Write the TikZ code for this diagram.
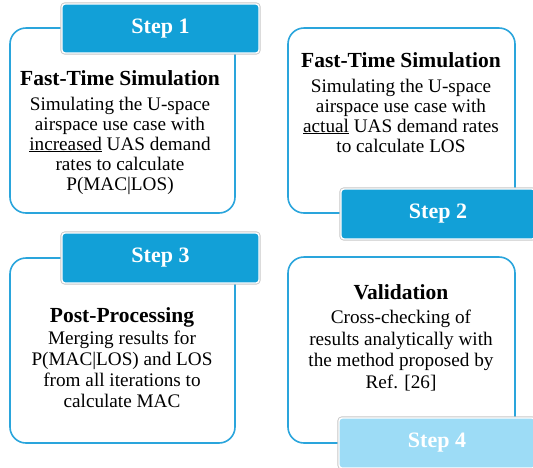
\documentclass[tikz,border=0pt]{standalone}
\usepackage{fontspec}
\setmainfont{Liberation Serif}

\definecolor{stepblue}{HTML}{12A0D7}
\definecolor{steplight}{HTML}{9DDCF6}
\definecolor{boxline}{HTML}{2AA5DC}

\tikzset{
  panel/.style={draw=boxline, line width=1.6pt, rounded corners=16pt, fill=white, inner sep=0pt},
  steptab/.style={fill=stepblue, draw=white, line width=1.4pt, rounded corners=3pt,
    preaction={draw=black!22, line width=3.2pt}, text=white,
    font=\fontsize{22}{24}\selectfont\bfseries, inner sep=0pt},
  heading/.style={font=\fontsize{21.5}{24}\selectfont\bfseries, anchor=base, inner sep=0pt},
  % the base anchor sits on the last line
  bodytext/.style={font=\fontsize{19.2}{20}\selectfont, align=center, anchor=base, inner sep=0pt},
}

\begin{document}
\begin{tikzpicture}[x=1pt, y=-1pt]
  \useasboundingbox (0,0) rectangle (533,467);

  % Cadres
  \node[panel, minimum width=225pt, minimum height=185pt] (sim1) at (122.5,120.5) {};
  \node[panel, minimum width=227pt, minimum height=185pt] (sim2) at (401.5,120.5) {};
  \node[panel, minimum width=225pt, minimum height=185pt] (post) at (122.5,350.5) {};
  \node[panel, minimum width=227pt, minimum height=186pt] (valid) at (401.5,350) {};

  % Onglets des etapes
  \node[steptab, minimum width=197pt, minimum height=49pt] (step1) at (160.5,28.5) {Step 1};
  \node[steptab, minimum width=194pt, minimum height=50pt] (step2) at (438,214) {Step 2};
  \node[steptab, minimum width=197pt, minimum height=50pt] (step3) at (160.5,258) {Step 3};
  \node[steptab, fill=steplight, minimum width=196pt, minimum height=50pt] (step4) at (437,443) {Step 4};

  % Textes
  \node[heading] (title1) at (120,85) {Fast-Time Simulation};
  \node[bodytext] (text1) at (120,190) {Simulating the U-space\\airspace use case with\\\underline{increased} UAS demand\\rates to calculate\\P(MAC|LOS)};

  \node[heading] (title2) at (401,67) {Fast-Time Simulation};
  \node[bodytext] (text2) at (401,152) {Simulating the U-space\\airspace use case with\\\underline{actual} UAS demand rates\\to calculate LOS};

  \node[heading] (title3) at (122,322) {Post-Processing};
  \node[bodytext, font=\fontsize{19.2}{20.7}\selectfont] (text3) at (122,407) {Merging results for\\P(MAC|LOS) and LOS\\from all iterations to\\calculate MAC};

  \node[heading] (title4) at (401,299) {Validation};
  \node[bodytext, font=\fontsize{19.2}{21.5}\selectfont] (text4) at (401,388) {Cross-checking of\\results analytically with\\the method proposed by\\Ref. [26]};
\end{tikzpicture}
\end{document}
